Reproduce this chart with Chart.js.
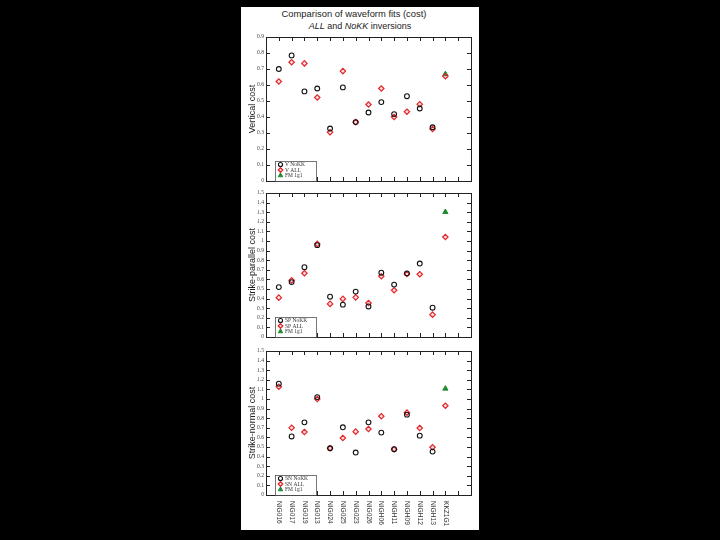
<!DOCTYPE html>
<html lang="en">
<head>
  <meta charset="UTF-8" />
  <title>Comparison of waveform fits (cost)</title>
  <script src="https://cdn.jsdelivr.net/npm/chart.js"></script>
  <style>
    body { margin: 0; background: #000; width: 720px; height: 540px; overflow: hidden; }
    .panel { position: absolute; left: 241px; top: 7px; width: 238px; height: 523px; background: #fff; }
    .title { position: absolute; left: 241px; width: 238px; text-align: center; white-space: nowrap;
             font-family: "Liberation Sans", Arial, sans-serif; font-size: 9px; line-height: 11px; color: #222; }
    canvas { position: absolute; left: 241px; }
  </style>
</head>
<body>
  <div class="panel"></div>
  <div class="title" style="top: 8px; margin-left: -6px; font-size: 9.4px;">Comparison of waveform fits (cost)</div>
  <div class="title" style="top: 21px;"><i>ALL</i> and <i>NoKK</i> inversions</div>

  <canvas id="vert" width="238" height="156" style="top: 31px;"></canvas>
  <canvas id="spar" width="238" height="156" style="top: 187px;"></canvas>
  <canvas id="snor" width="238" height="185" style="top: 345px;"></canvas>

  <script>
    // stations along the x axis (slots 1..14, axis runs 0..16)
    const categories = ['NIG016', 'NIG017', 'NIG019', 'NIG013', 'NIG024', 'NIG025', 'NIG023',
                        'NIG026', 'NIGH06', 'NIGH11', 'NIGH09', 'NIGH12', 'NIGH13', 'KKZ1G1'];

    // vertical cost
    const vNoKK = [0.700, 0.785, 0.560, 0.578, 0.328, 0.585, 0.368, 0.428, 0.493, 0.418, 0.530, 0.453, 0.336, null];
    const vAll  = [0.622, 0.742, 0.735, 0.522, 0.305, 0.687, 0.368, 0.478, 0.578, 0.400, 0.433, 0.480, 0.325, 0.655];
    const vFM   = [null, null, null, null, null, null, null, null, null, null, null, null, null, 0.668];

    // strike-parallel cost
    const spNoKK = [0.520, 0.572, 0.727, 0.957, 0.420, 0.337, 0.473, 0.318, 0.670, 0.546, 0.663, 0.765, 0.305, null];
    const spAll  = [0.410, 0.590, 0.664, 0.970, 0.345, 0.397, 0.413, 0.354, 0.633, 0.487, 0.656, 0.654, 0.233, 1.042];
    const spFM   = [null, null, null, null, null, null, null, null, null, null, null, null, null, 1.302];

    // strike-normal cost
    const snNoKK = [1.160, 0.610, 0.757, 1.020, 0.487, 0.705, 0.442, 0.757, 0.650, 0.477, 0.837, 0.618, 0.452, null];
    const snAll  = [1.128, 0.700, 0.656, 1.000, 0.487, 0.594, 0.660, 0.688, 0.820, 0.477, 0.858, 0.698, 0.497, 0.930];
    const snFM   = [null, null, null, null, null, null, null, null, null, null, null, null, null, 1.108];

    const SANS = '"Liberation Sans", Arial, sans-serif';
    const SERIF = '"Liberation Serif", "Times New Roman", serif';

    const markStyles = [
      { pointStyle: 'circle',   pointRadius: 2.4, borderWidth: 1.1, borderColor: '#111',    backgroundColor: 'rgba(0,0,0,0)' },
      { pointStyle: 'rectRot',  pointRadius: 2.7, borderWidth: 1.2, borderColor: '#e2262b', backgroundColor: 'rgba(226,38,43,0.15)' },
      { pointStyle: 'triangle', pointRadius: 3.0, borderWidth: 1,   borderColor: '#1f8b2f', backgroundColor: '#1f8b2f' }
    ];

    function toPoints(arr) {
      return arr.map((v, i) => v == null ? null : { x: i + 1, y: v }).filter(p => p);
    }

    function drawMark(ctx, st, x, y) {
      const r = st.pointRadius;
      ctx.beginPath();
      if (st.pointStyle === 'circle') {
        ctx.arc(x, y, r, 0, Math.PI * 2);
      } else if (st.pointStyle === 'rectRot') {
        ctx.moveTo(x, y - r); ctx.lineTo(x + r, y); ctx.lineTo(x, y + r); ctx.lineTo(x - r, y);
      } else {
        ctx.moveTo(x, y - r); ctx.lineTo(x + r * 0.866, y + r / 2); ctx.lineTo(x - r * 0.866, y + r / 2);
      }
      ctx.closePath();
      ctx.fillStyle = st.backgroundColor;
      ctx.fill();
      ctx.lineWidth = st.borderWidth;
      ctx.strokeStyle = st.borderColor;
      ctx.stroke();
    }

    // box frame with inward ticks on all four sides
    const framePlugin = {
      id: 'frame',
      beforeDatasetsDraw(chart) {
        const { ctx, chartArea: a, scales: { x, y } } = chart;
        ctx.save();
        ctx.strokeStyle = '#222';
        ctx.lineWidth = 1;
        ctx.beginPath();
        for (let i = 1; i < 16; i++) {
          const px = Math.round(x.getPixelForValue(i)) + 0.5;
          ctx.moveTo(px, a.top); ctx.lineTo(px, a.top + 4);
          ctx.moveTo(px, a.bottom); ctx.lineTo(px, a.bottom - 4);
        }
        y.ticks.forEach(t => {
          const py = Math.round(y.getPixelForValue(t.value)) + 0.5;
          ctx.moveTo(a.left, py); ctx.lineTo(a.left + 4, py);
          ctx.moveTo(a.right, py); ctx.lineTo(a.right - 4, py);
        });
        ctx.stroke();
        ctx.strokeRect(Math.round(a.left) + 0.5, Math.round(a.top) + 0.5,
                       Math.round(a.right - a.left), Math.round(a.bottom - a.top));
        ctx.restore();
      }
    };

    // small boxed legend in the lower left corner
    const boxLegend = {
      id: 'boxLegend',
      afterDatasetsDraw(chart) {
        const { ctx, chartArea: a } = chart;
        const left = a.left + 9, w = 41, h = 20, top = a.bottom - h;
        ctx.save();
        ctx.fillStyle = '#fff';
        ctx.fillRect(left, top, w, h);
        ctx.strokeStyle = '#555';
        ctx.lineWidth = 0.8;
        ctx.strokeRect(left + 0.5, top + 0.5, w, h);
        chart.data.datasets.forEach((ds, i) => {
          const yy = top + 3.5 + i * 5.5;
          drawMark(ctx, { ...markStyles[i], pointRadius: markStyles[i].pointRadius * 0.85 }, left + 5.5, yy);
          ctx.fillStyle = '#333';
          ctx.font = '5.5px ' + SERIF;
          ctx.textBaseline = 'middle';
          ctx.textAlign = 'left';
          ctx.fillText(ds.label, left + 10, yy + 0.3);
        });
        ctx.restore();
      }
    };

    // station names under the bottom panel, reading downwards
    const stationLabels = {
      id: 'stationLabels',
      afterDraw(chart, args, opts) {
        if (!opts.show) return;
        const { ctx, chartArea: a, scales: { x } } = chart;
        ctx.save();
        ctx.fillStyle = '#333';
        ctx.font = '6.6px ' + SANS;
        ctx.textAlign = 'left';
        ctx.textBaseline = 'middle';
        categories.forEach((c, i) => {
          ctx.save();
          ctx.translate(x.getPixelForValue(i + 1), a.bottom + 6);
          ctx.rotate(Math.PI / 2);
          ctx.fillText(c, 0, 0);
          ctx.restore();
        });
        ctx.restore();
      }
    };

    function makeChart(id, yTitle, yMax, labels, series, bottomPad, showStations) {
      new Chart(document.getElementById(id), {
        type: 'scatter',
        data: {
          datasets: series.map((s, i) => ({
            label: labels[i],
            data: toPoints(s),
            ...markStyles[i]
          }))
        },
        options: {
          responsive: false,
          animation: false,
          layout: { padding: { top: 6, bottom: bottomPad, left: 0, right: 8 } },
          plugins: {
            legend: { display: false },
            tooltip: { enabled: false },
            stationLabels: { show: showStations }
          },
          scales: {
            x: { type: 'linear', min: 0, max: 16, display: false },
            y: {
              min: 0, max: yMax,
              grid: { display: false, drawTicks: false },
              border: { display: false },
              ticks: {
                stepSize: 0.1, autoSkip: false, padding: 2, color: '#444',
                font: { family: SERIF, size: 5.6 },
                callback: v => String(+v.toFixed(1))
              },
              title: {
                display: true, text: yTitle, color: '#222',
                font: { family: SANS, size: 9 },
                padding: { top: 6, bottom: 0 }
              },
              afterFit: s => { s.width = 25; }
            }
          }
        },
        plugins: [framePlugin, boxLegend, stationLabels]
      });
    }

    makeChart('vert', 'Vertical cost', 0.9, ['V NoKK', 'V ALL', 'FM 1g1'], [vNoKK, vAll, vFM], 6, false);
    makeChart('spar', 'Strike-parallel cost', 1.5, ['SP NoKK', 'SP ALL', 'FM 1g1'], [spNoKK, spAll, spFM], 6, false);
    makeChart('snor', 'Strike-normal cost', 1.5, ['SN NoKK', 'SN ALL', 'FM 1g1'], [snNoKK, snAll, snFM], 35, true);
  </script>
</body>
</html>
